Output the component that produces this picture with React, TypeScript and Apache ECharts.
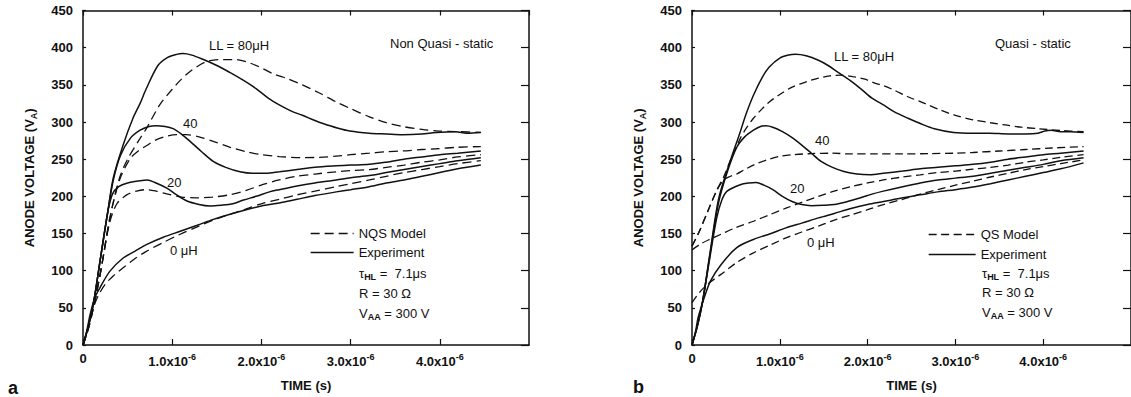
import React, { useEffect, useRef } from "react";
import * as echarts from "echarts";

// Time in microseconds (axis labels show x10^-6 s), voltage in volts
const timeTicks = [0, 1, 2, 3, 4, 5];
const voltTicks = [0, 50, 100, 150, 200, 250, 300, 350, 400, 450];

// ---- Panel a: Non Quasi-static ----
const nqs80: number[][] = [[0,0],[0.06,22],[0.12,52],[0.2,100],[0.3,170],[0.41,225],[0.5,250],[0.64,278],[0.71,291],[0.86,323],[1.0,344],[1.09,356],[1.2,368],[1.38,381],[1.57,384],[1.7,384],[1.83,381],[1.98,374],[2.13,365],[2.3,358],[2.46,350],[2.65,339],[2.84,327],[3.0,318],[3.21,307],[3.4,299],[3.58,294],[3.8,290],[3.96,288],[4.2,287],[4.46,286]];
const nqs40: number[][] = [[0,0],[0.06,22],[0.12,52],[0.2,100],[0.3,170],[0.41,222],[0.53,251],[0.62,261],[0.71,268],[0.82,276],[0.94,281],[1.05,283],[1.16,283],[1.3,280],[1.46,274],[1.65,266],[1.83,260],[2.0,256],[2.2,253.5],[2.46,252],[2.65,252.5],[2.84,254],[3.0,256],[3.21,258],[3.4,260],[3.58,261],[3.8,263],[3.96,264],[4.2,266],[4.46,267]];
const nqs20: number[][] = [[0,0],[0.06,22],[0.12,52],[0.2,100],[0.3,165],[0.38,190],[0.49,202],[0.6,207],[0.71,209],[0.82,207],[0.95,203],[1.1,199],[1.27,198],[1.45,199],[1.64,202],[1.83,208],[2.02,216],[2.2,222],[2.4,227],[2.6,230],[2.84,233],[3.0,234.5],[3.21,236],[3.4,239],[3.6,242],[3.8,246],[4.0,249],[4.2,253],[4.46,256]];
const nqs0: number[][] = [[0,0],[0.04,16],[0.1,45],[0.17,66],[0.25,82],[0.35,94],[0.45,104],[0.58,116],[0.71,126],[0.9,138],[1.09,149],[1.28,159],[1.46,168],[1.65,176],[1.83,183],[2.0,190],[2.2,196],[2.4,202],[2.6,207],[2.84,213],[3.0,217],[3.21,222],[3.4,227],[3.6,232],[3.8,236],[4.0,240],[4.2,244],[4.46,248]];

const expA80: number[][] = [[0,0],[0.06,25],[0.12,58],[0.2,120],[0.28,181],[0.34,225],[0.45,269],[0.56,305],[0.64,325],[0.71,345],[0.84,376],[0.95,387],[1.05,391],[1.12,392],[1.22,390],[1.35,384],[1.5,376],[1.64,367],[1.8,356],[1.94,345],[2.09,331],[2.2,323],[2.33,315],[2.46,309],[2.6,302],[2.69,298],[2.85,292],[2.99,288],[3.21,285],[3.4,284],[3.58,283],[3.8,284],[3.96,286],[4.18,287],[4.3,285],[4.46,286]];
const expA40: number[][] = [[0,0],[0.06,25],[0.12,58],[0.2,120],[0.28,181],[0.34,222],[0.42,255],[0.53,278],[0.64,289],[0.74,294],[0.82,295],[0.92,294],[1.01,291],[1.1,284],[1.2,274],[1.33,260],[1.46,247],[1.6,239],[1.76,233],[1.9,231],[2.05,231],[2.2,233],[2.4,236],[2.6,239],[2.84,241],[3.0,242],[3.21,243],[3.4,246],[3.6,250],[3.8,253],[4.0,256],[4.2,258],[4.46,261]];
const expA20: number[][] = [[0,0],[0.06,25],[0.12,58],[0.2,120],[0.28,180],[0.33,203],[0.4,213],[0.5,218],[0.64,221],[0.72,222],[0.8,219],[0.94,211],[1.05,202],[1.16,194],[1.3,189],[1.42,187],[1.55,188],[1.68,190],[1.8,195],[1.94,200],[2.09,206],[2.2,209],[2.4,214],[2.6,218],[2.84,222],[3.0,225],[3.21,228],[3.4,232],[3.6,236],[3.8,240],[4.0,244],[4.2,248],[4.46,252]];
const expA0: number[][] = [[0,0],[0.04,18],[0.08,41],[0.13,63],[0.19,77],[0.3,99],[0.45,117],[0.58,126],[0.71,135],[0.9,145],[1.09,153],[1.28,161],[1.46,169],[1.65,176],[1.83,182],[2.0,187],[2.2,191],[2.4,196],[2.6,201],[2.84,206],[3.0,209],[3.21,213],[3.4,218],[3.6,222],[3.8,227],[4.0,232],[4.2,237],[4.46,242]];

// ---- Panel b: Quasi-static ----
const qs80: number[][] = [[0,133],[0.08,152],[0.18,180],[0.28,208],[0.36,226],[0.45,252],[0.55,278],[0.62,292],[0.7,305],[0.8,318],[0.88,327],[1.0,337],[1.14,347],[1.3,354],[1.44,359],[1.57,362],[1.7,363],[1.83,361],[1.96,358],[2.09,352],[2.18,349],[2.3,343],[2.46,334],[2.65,325],[2.83,316],[3.0,309],[3.2,303],[3.4,299],[3.57,296],[3.75,293],[3.94,291],[4.2,288.5],[4.46,287]];
const qs40: number[][] = [[0,133],[0.08,152],[0.18,180],[0.28,207],[0.36,222],[0.44,227],[0.51,230],[0.6,236],[0.7,242],[0.85,249],[0.99,253.5],[1.15,256],[1.36,257.5],[1.6,258],[1.81,257],[2.09,257],[2.4,257],[2.7,257.5],[3.0,258],[3.2,259],[3.5,261],[3.8,263],[4.1,265],[4.46,267]];
const qs20: number[][] = [[0,128],[0.1,136],[0.2,142],[0.33,149],[0.5,158],[0.7,166.5],[0.9,176],[1.07,184],[1.25,192],[1.44,200],[1.62,207],[1.81,213],[2.0,218],[2.18,222],[2.4,226],[2.6,229],[2.8,232],[3.0,234],[3.2,236.5],[3.4,239],[3.6,242],[3.8,246],[4.0,249],[4.2,252.5],[4.46,256]];
const qs0: number[][] = [[0,57],[0.08,70],[0.18,82],[0.33,95],[0.51,111],[0.7,124],[0.9,135],[1.07,144],[1.25,152],[1.44,160],[1.62,168],[1.81,175],[2.0,182],[2.18,189],[2.4,196],[2.6,203],[2.8,209],[3.0,215],[3.2,220.5],[3.4,226],[3.6,231],[3.8,236],[4.0,240],[4.2,244],[4.46,249]];

const expB80: number[][] = [[0,0],[0.06,25],[0.12,58],[0.2,120],[0.3,195],[0.4,235],[0.55,287],[0.62,312],[0.7,336],[0.8,360],[0.88,374],[1.0,386],[1.1,390],[1.18,391],[1.3,389],[1.44,383],[1.55,376],[1.66,367],[1.8,356],[1.92,345],[2.05,332],[2.18,323],[2.3,314],[2.46,305],[2.6,298],[2.76,291],[2.98,286],[3.2,285],[3.39,285],[3.6,284],[3.8,284],[3.94,285],[4.02,288],[4.09,289],[4.2,287],[4.31,287],[4.46,286]];
const expB40: number[][] = [[0,0],[0.06,25],[0.12,58],[0.2,118],[0.3,190],[0.4,232],[0.51,266],[0.6,280],[0.7,289],[0.78,294],[0.84,295],[0.92,293],[1.03,287],[1.14,279],[1.25,269],[1.36,258],[1.47,247],[1.6,239],[1.73,233.5],[1.88,230],[2.03,229],[2.18,231],[2.4,234],[2.6,237],[2.8,239],[3.0,241],[3.2,243],[3.4,246],[3.6,250],[3.8,253],[4.0,256],[4.2,258],[4.46,261]];
const expB20: number[][] = [[0,0],[0.06,25],[0.12,58],[0.2,115],[0.28,170],[0.34,195],[0.4,207],[0.55,215.6],[0.65,218],[0.73,218.7],[0.82,215],[0.92,209],[1.03,200],[1.14,193],[1.25,189],[1.36,187.5],[1.5,188],[1.62,189],[1.77,193],[1.92,198],[2.05,203],[2.18,207],[2.4,213],[2.6,218],[2.8,222],[3.0,224.5],[3.2,227],[3.4,231],[3.6,235],[3.8,239],[4.0,243],[4.2,248],[4.46,252]];
const expB0: number[][] = [[0,0],[0.04,18],[0.07,37],[0.14,64],[0.21,86],[0.33,108],[0.51,131],[0.7,142],[0.9,150],[1.07,157.6],[1.25,164],[1.44,171],[1.62,177],[1.81,183.5],[2.0,189],[2.18,193],[2.4,198],[2.6,202],[2.8,206],[3.0,209],[3.2,212.5],[3.4,217],[3.6,222],[3.8,227],[4.0,232],[4.2,237],[4.46,245]];

const FONT = "'Liberation Sans', Arial, Helvetica, sans-serif";
const INK = "#111";

const richTick = {
  b: { fontSize: 13, fontWeight: "bold" as const, fontFamily: FONT, color: INK },
  s: { fontSize: 9, fontWeight: "bold" as const, fontFamily: FONT, color: INK, padding: [0, 0, 10, 0] },
};

function xAxes(g: number) {
  const common = {
    gridIndex: g,
    type: "value" as const,
    min: timeTicks[0],
    max: timeTicks[timeTicks.length - 1],
    interval: 1,
    splitLine: { show: false },
    axisLine: { show: true, onZero: false, lineStyle: { color: INK, width: 1.5 } },
  };
  return [
    {
      ...common,
      position: "bottom",
      axisTick: { show: true, inside: true, length: 6, lineStyle: { color: INK, width: 1.2 } },
      axisLabel: {
        margin: 7,
        showMaxLabel: false,
        formatter: (v: number) => (v === 0 ? "{b|0}" : `{b|${v.toFixed(1)}x10}{s|-6}`),
        rich: richTick,
      },
      name: "TIME (s)",
      nameLocation: "middle",
      nameGap: 34,
      nameTextStyle: { fontSize: 13, fontWeight: "bold", fontFamily: FONT, color: INK },
    },
    {
      ...common,
      position: "top",
      axisTick: { show: true, inside: true, length: 5, lineStyle: { color: INK, width: 1.2 } },
      axisLabel: { show: false },
    },
  ];
}

function yAxes(g: number) {
  const common = {
    gridIndex: g,
    type: "value" as const,
    min: voltTicks[0],
    max: voltTicks[voltTicks.length - 1],
    interval: 50,
    splitLine: { show: false },
    axisLine: { show: true, onZero: false, lineStyle: { color: INK, width: 1.5 } },
  };
  return [
    {
      ...common,
      position: "left",
      axisTick: { show: true, inside: true, length: 3, lineStyle: { color: INK, width: 1.2 } },
      axisLabel: { margin: 10, fontSize: 13, fontWeight: "bold", fontFamily: FONT, color: INK },
      name: "{n|ANODE VOLTAGE (V}{sub|A}{n|)}",
      nameLocation: "middle",
      nameGap: 45,
      nameRotate: 90,
      nameTextStyle: {
        fontSize: 13,
        fontFamily: FONT,
        color: INK,
        rich: {
          n: { fontSize: 13, fontWeight: "bold", fontFamily: FONT, color: INK },
          sub: { fontSize: 9, fontWeight: "bold", fontFamily: FONT, color: INK, padding: [8, 0, 0, 0] },
        },
      },
    },
    {
      ...common,
      position: "right",
      axisTick: { show: true, inside: true, length: 8, lineStyle: { color: INK, width: 1.2 } },
      axisLabel: { show: false },
    },
  ];
}

function lineSeries(name: string, data: number[][], xi: number, yi: number, dashed: boolean, dash: number[]) {
  return {
    type: "line",
    name,
    xAxisIndex: xi,
    yAxisIndex: yi,
    data,
    symbol: "none",
    showSymbol: false,
    smooth: 0.3,
    silent: true,
    lineStyle: { color: INK, width: dashed ? 1.3 : 1.5, type: dashed ? dash : "solid" },
    itemStyle: { color: INK },
  };
}

const txt = (x: number, y: number, text: string, size = 13, weight = "normal") => ({
  type: "text",
  x,
  y,
  silent: true,
  style: {
    text,
    fill: INK,
    fontSize: size,
    fontWeight: weight,
    fontFamily: FONT,
    verticalAlign: "middle",
    align: "left",
  },
});

const richTxt = (x: number, y: number, text: string) => ({
  type: "text",
  x,
  y,
  silent: true,
  style: {
    text,
    fill: INK,
    fontSize: 13,
    fontFamily: FONT,
    verticalAlign: "middle",
    align: "left",
    rich: {
      t: { fontSize: 13, fontFamily: FONT, color: INK },
      sub: { fontSize: 9, fontWeight: "bold", fontFamily: FONT, color: INK, padding: [8, 0, 0, 0] },
    },
  },
});

export default function App() {
  const ref = useRef<HTMLDivElement>(null);
  useEffect(() => {
    if (!ref.current) return;
    const chart = echarts.init(ref.current, undefined, { renderer: "svg" });
    const dashA = [9, 5];
    const dashB = [8, 4.5];
    const series = [
      ...[nqs80, nqs40, nqs20, nqs0].map((d) => lineSeries("NQS Model", d, 0, 0, true, dashA)),
      ...[expA80, expA40, expA20, expA0].map((d) => lineSeries("Experiment", d, 0, 0, false, dashA)),
      ...[qs80, qs40, qs20, qs0].map((d) => lineSeries("QS Model", d, 2, 2, true, dashB)),
      ...[expB80, expB40, expB20, expB0].map((d) => lineSeries("Experiment", d, 2, 2, false, dashB)),
    ];
    const legendCommon = {
      orient: "vertical",
      padding: 0,
      itemHeight: 12,
      selectedMode: false,
      itemStyle: { opacity: 0, borderWidth: 0 },
      lineStyle: { width: 1.3 },
      textStyle: { fontSize: 13, fontFamily: FONT, color: INK, lineHeight: 12 },
    };
    chart.setOption({
      animation: false,
      backgroundColor: "#fff",
      grid: [
        { left: 83, top: 10.5, width: 446, height: 335.5 },
        { left: 692, top: 10.5, width: 450, height: 335.5 },
      ],
      xAxis: [...xAxes(0), ...xAxes(1)],
      yAxis: [...yAxes(0), ...yAxes(1)],
      legend: [
        { ...legendCommon, data: ["NQS Model", "Experiment"], left: 310, top: 227, itemWidth: 43, itemGap: 6 },
        { ...legendCommon, data: ["QS Model", "Experiment"], left: 928, top: 228, itemWidth: 47, itemGap: 7 },
      ],
      series,
      graphic: [
        txt(209, 45, "LL = 80μH"),
        txt(390, 43, "Non Quasi - static"),
        txt(183, 123, "40"),
        txt(167, 182, "20"),
        txt(170, 250, "0 μH"),
        richTxt(359, 273, "{t|τ}{sub|HL}{t| =  7.1μs}"),
        txt(359, 293, "R = 30 Ω"),
        richTxt(359, 313, "{t|V}{sub|AA}{t| = 300 V}"),
        txt(834, 56, "LL = 80μH"),
        txt(995, 43, "Quasi - static"),
        txt(815, 140, "40"),
        txt(790, 188, "20"),
        txt(807, 242, "0 μH"),
        richTxt(982, 273, "{t|τ}{sub|HL}{t| =  7.1μs}"),
        txt(982, 292, "R = 30 Ω"),
        richTxt(982, 312, "{t|V}{sub|AA}{t| = 300 V}"),
        txt(8, 388, "a", 18, "bold"),
        txt(633, 387, "b", 18, "bold"),
      ],
    });
    return () => chart.dispose();
  }, []);
  return (
    <div
      ref={ref}
      style={{ position: "fixed", left: 0, top: 0, width: 1131, height: 397, background: "#fff" }}
    />
  );
}
